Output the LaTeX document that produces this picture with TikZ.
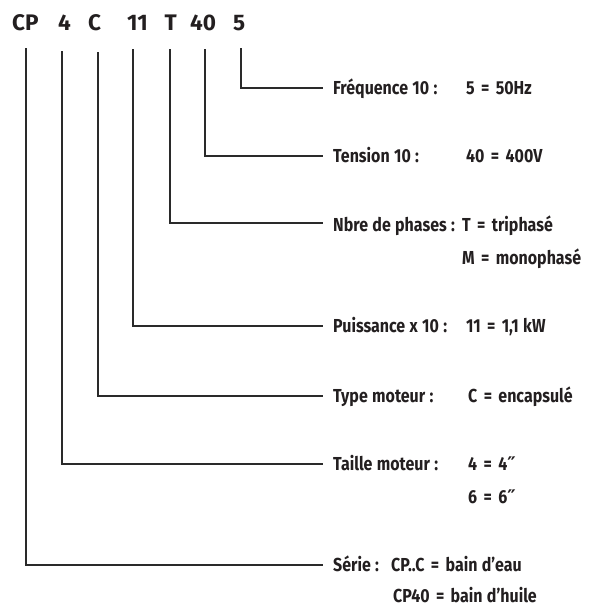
\documentclass[tikz,border=0pt]{standalone}
\usepackage{fontspec}
\setmainfont{Fira Sans}
\newfontfamily\labfont[FakeStretch=0.85,WordSpace=1.15]{Fira Sans}
\newfontfamily\symfont{DejaVu Sans}
\newcommand{\inchmark}{{\symfont\bfseries\char"2033}}
\newcommand{\eqsign}{\hspace{0.34em}=\hspace{0.34em}}
\definecolor{ink}{HTML}{231F20}
\definecolor{wire}{HTML}{2A2A2A}
\tikzset{
  code/.style={anchor=base west, inner sep=0pt, text=ink, font=\fontsize{22.5}{22.5}\selectfont\bfseries},
  lab/.style={anchor=base west, inner sep=0pt, text=ink, font=\labfont\fontsize{18.8}{18.8}\selectfont\bfseries},
  wirestyle/.style={draw=wire, line width=2pt, line join=miter}
}
\begin{document}
\begin{tikzpicture}[x=1pt,y=-1pt]
\useasboundingbox (0,0) rectangle (595,606);
% code parts
\node[code] (cCP) at (12,30) {CP};
\node[code] (c4) at (58,30) {4};
\node[code] (cC) at (88,30) {C};
\node[code] (c11) at (127,30) {11};
\node[code] (cT) at (164.5,30) {T};
\node[code] (c40) at (190,30) {40};
\node[code] (c5) at (233,30) {5};
% line tops
\coordinate (vCP) at (26,48);
\coordinate (v4) at (62,51);
\coordinate (vC) at (97.7,52);
\coordinate (v11) at (132.7,49);
\coordinate (vT) at (170,49);
\coordinate (v40) at (205,49);
\coordinate (v5) at (240.7,48);
% line ends
\coordinate (h5) at (322.7,87.7);
\coordinate (h40) at (322.7,156);
\coordinate (hT) at (322.7,223.3);
\coordinate (h11) at (322.7,326);
\coordinate (hC) at (322.7,396);
\coordinate (h4) at (322.7,464.3);
\coordinate (hCP) at (322.7,565);
% labels
\node[lab] (lf) at (333,94.2) {Fréquence 10 :};
\node[lab] (vf) at (466,94.2) {5\eqsign 50Hz};
\node[lab] (lt) at (333,162) {Tension 10 :};
\node[lab] (vt) at (466,162) {40\eqsign 400V};
\node[lab] (lp) at (333,231) {Nbre de phases :};
\node[lab] (vp1) at (462,231) {T\eqsign triphasé};
\node[lab] (vp2) at (462,264.3) {M\eqsign monophasé};
\node[lab] (lw) at (333,332.5) {Puissance x 10 :};
\node[lab] (vw) at (466,332.5) {11\eqsign 1,1 kW};
\node[lab] (lm) at (333,402.5) {Type moteur :};
\node[lab] (vm) at (468,402.5) {C\eqsign encapsulé};
\node[lab] (ls) at (333,470.7) {Taille moteur :};
\node[lab] (vs1) at (468,470.7) {4\eqsign 4\inchmark};
\node[lab] (vs2) at (468,503.3) {6\eqsign 6\inchmark};
\node[lab] (lr) at (333,571.7) {Série :};
\node[lab] (vr1) at (391,571.7) {CP..C\eqsign bain d’eau};
\node[lab] (vr2) at (393,602) {CP40\eqsign bain d’huile};
% connectors
\draw[wirestyle] (v5) |- (h5);
\draw[wirestyle] (v40) |- (h40);
\draw[wirestyle] (vT) |- (hT);
\draw[wirestyle] (v11) |- (h11);
\draw[wirestyle] (vC) |- (hC);
\draw[wirestyle] (v4) |- (h4);
\draw[wirestyle] (vCP) |- (hCP);
\end{tikzpicture}
\end{document}
